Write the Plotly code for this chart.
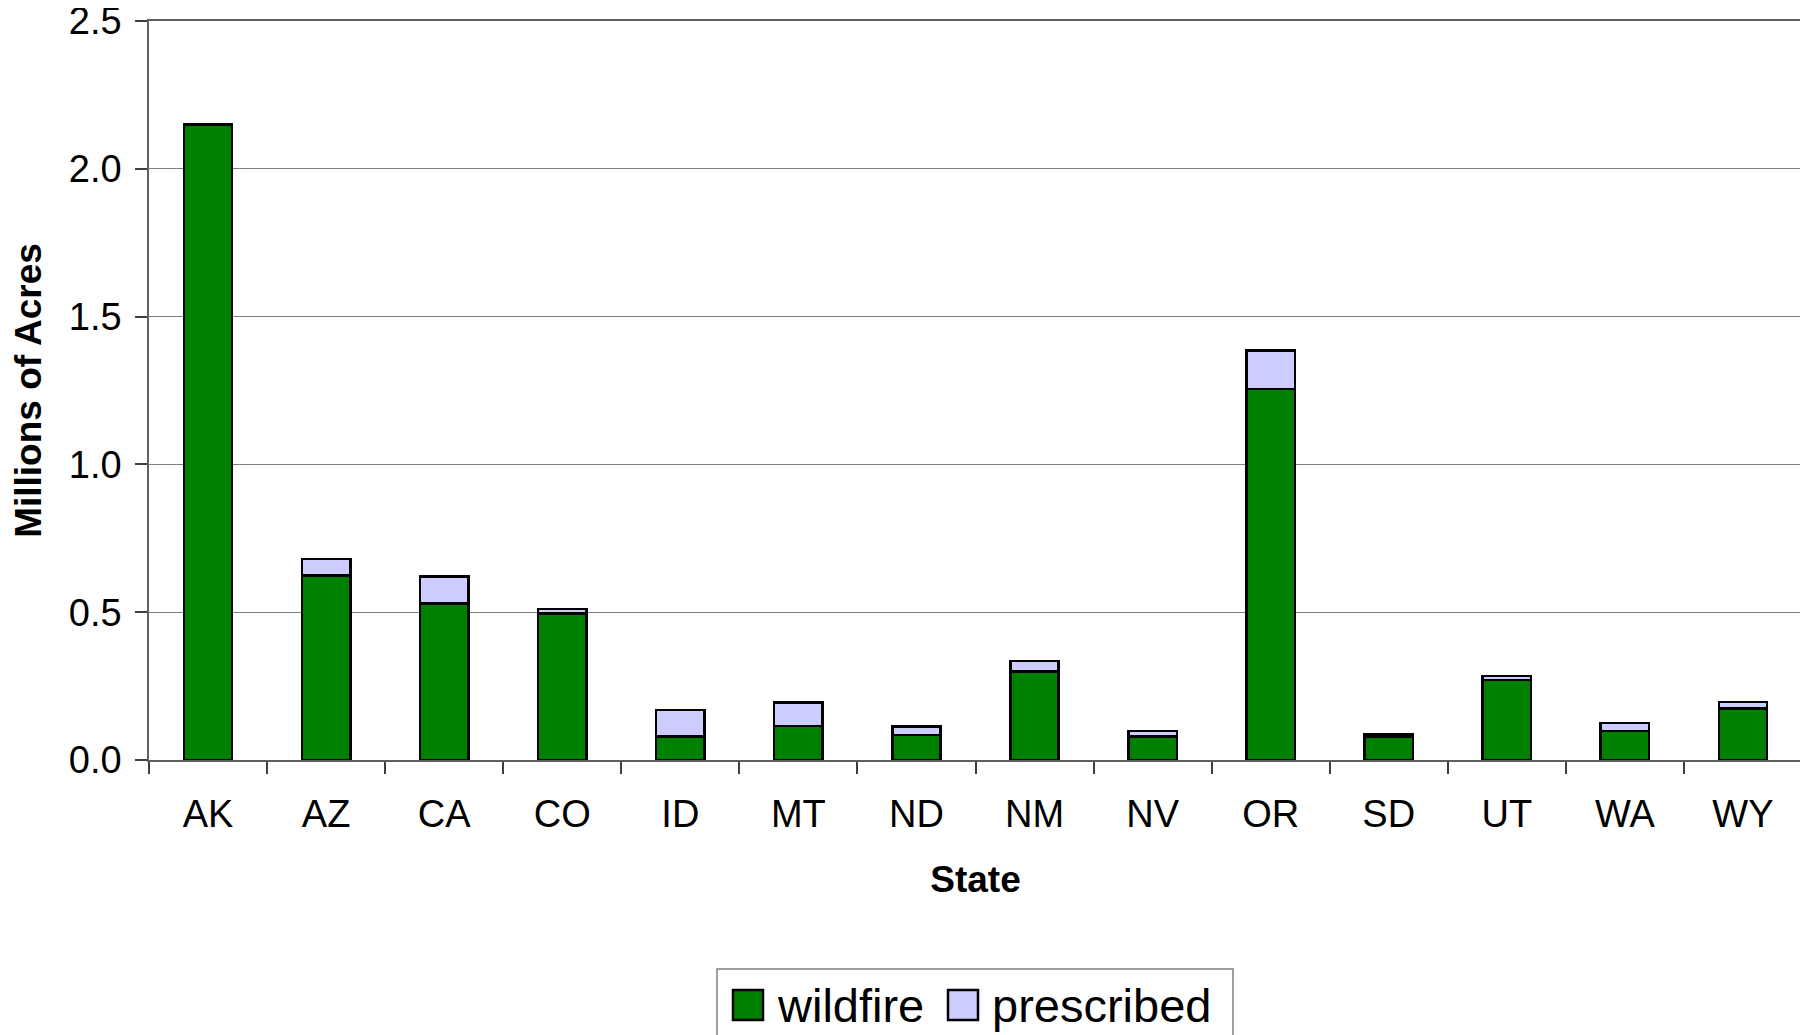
import plotly.graph_objects as go

states = ["AK", "AZ", "CA", "CO", "ID", "MT", "ND", "NM", "NV", "OR", "SD", "UT", "WA", "WY"]
wildfire = [2.15, 0.625, 0.53, 0.495, 0.08, 0.115, 0.085, 0.30, 0.08, 1.255, 0.08, 0.27, 0.098, 0.175]
prescribed = [0.0, 0.055, 0.09, 0.015, 0.09, 0.08, 0.028, 0.035, 0.018, 0.13, 0.008, 0.015, 0.027, 0.022]
series_names = ["wildfire", "prescribed"]
series_colors = ["#008000", "#CCCCFF"]
y_ticks = [0.0, 0.5, 1.0, 1.5, 2.0, 2.5]

FONT = "Liberation Sans, Arial, sans-serif"

fig = go.Figure()
for name, vals, col in zip(series_names, [wildfire, prescribed], series_colors):
    fig.add_trace(go.Bar(
        x=states, y=vals, name=name,
        marker=dict(color=col, line=dict(color="black", width=2.5)),
        showlegend=False,
    ))

# The page body adds an 8px offset, so the figure is 8px smaller than the window.
OFF = 8
W, H = 1808 - OFF, 1035 - OFF
L, R, T, B = 149 - OFF, 6, 21 - OFF, 275
pw, ph = W - L - R, H - T - B

def px_x(x):
    # x given in window pixels
    return (x - OFF - L) / pw

def px_y(y):
    return (H - B - (y - OFF)) / ph

shapes = [
    # legend box
    dict(type="rect", xref="paper", yref="paper",
         x0=px_x(717), x1=px_x(1233), y0=px_y(969), y1=px_y(1045),
         line=dict(color="#808080", width=1.5), fillcolor="white"),
]
annotations = []
swatches = [(733, 775), (948, 990)]
for (sx, tx), name, col in zip(swatches, series_names, series_colors):
    shapes.append(dict(type="rect", xref="paper", yref="paper",
                       x0=px_x(sx), x1=px_x(sx + 30), y0=px_y(1020), y1=px_y(990),
                       line=dict(color="black", width=2.5), fillcolor=col))
    annotations.append(dict(xref="paper", yref="paper", x=px_x(tx), y=px_y(1005),
                            xanchor="left", yanchor="middle", text=name, showarrow=False,
                            font=dict(family=FONT, size=47, color="black")))

fig.update_layout(
    width=W, height=H,
    margin=dict(l=L, r=R, t=T, b=B, pad=0),
    barmode="stack",
    bargap=0.59,
    plot_bgcolor="white",
    paper_bgcolor="white",
    font=dict(family=FONT, color="black"),
    shapes=shapes,
    annotations=annotations,
    xaxis=dict(
        automargin=False,
        title=dict(text="<b>State</b>", font=dict(family=FONT, size=37), standoff=32),
        tickfont=dict(family=FONT, size=38),
        ticks="outside", ticklen=12, tickwidth=1.5, tickcolor="#404040",
        tickson="boundaries",
        showline=True, linecolor="#606060", linewidth=1.5, mirror=True,
        showgrid=False,
        ticklabelstandoff=20,
    ),
    yaxis=dict(
        automargin=False,
        title=dict(text="<b>Millions of Acres</b>", font=dict(family=FONT, size=37), standoff=18),
        tickfont=dict(family=FONT, size=38),
        range=[0, 2.5], tickvals=y_ticks, ticktext=[f"{v:.1f}" for v in y_ticks],
        ticks="outside", ticklen=12, tickwidth=1.5, tickcolor="#404040",
        ticklabeloverflow="allow",
        showline=True, linecolor="#606060", linewidth=1.5, mirror=True,
        showgrid=True, gridcolor="#808080", gridwidth=1.2,
        zeroline=False,
        ticklabelstandoff=6,
    ),
)

fig.write_html("out.html")
